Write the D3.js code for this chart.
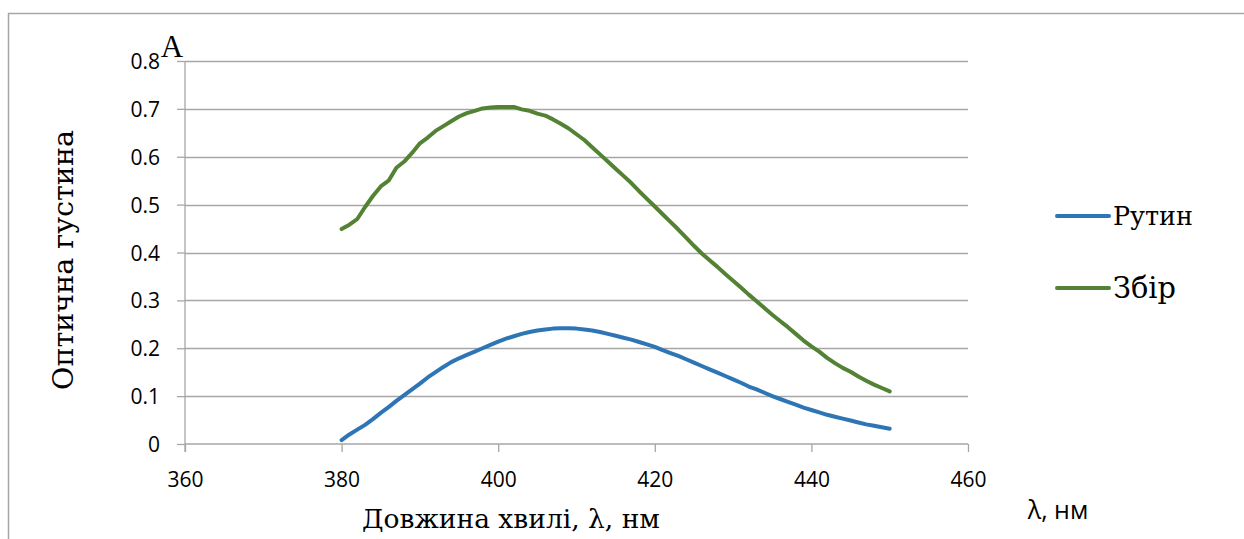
<!DOCTYPE html>
<html>
<head>
<meta charset="utf-8">
<script src="https://cdn.jsdelivr.net/npm/d3@7"></script>
<style>
  body { margin: 0; background: #fff; }
</style>
</head>
<body>
<svg width="1244" height="539"></svg>
<script>
var wavelengths = d3.range(380, 451);

var rutin = [
  0.008, 0.02, 0.03, 0.04, 0.052, 0.065, 0.077, 0.09, 0.102, 0.114,
  0.126, 0.139, 0.15, 0.161, 0.171, 0.179, 0.186, 0.193, 0.2, 0.207,
  0.214, 0.22, 0.225, 0.23, 0.234, 0.237, 0.239, 0.241, 0.242, 0.242,
  0.241, 0.239, 0.237, 0.234, 0.23, 0.226, 0.222, 0.218, 0.213, 0.208,
  0.203, 0.196, 0.19, 0.184, 0.177, 0.17, 0.163, 0.156, 0.149, 0.142,
  0.135, 0.128, 0.12, 0.114, 0.107, 0.1, 0.094, 0.088, 0.082, 0.076,
  0.071, 0.066, 0.061, 0.057, 0.053, 0.049, 0.045, 0.041, 0.038, 0.035,
  0.032
];

var zbir = [
  0.449, 0.458, 0.47, 0.495, 0.518, 0.538, 0.55, 0.577, 0.59, 0.608,
  0.628, 0.64, 0.654, 0.664, 0.674, 0.684, 0.691, 0.696, 0.701, 0.703,
  0.704, 0.704, 0.704, 0.699, 0.696, 0.69, 0.686, 0.678, 0.669, 0.659,
  0.647, 0.635, 0.62, 0.605, 0.59, 0.575, 0.56, 0.545, 0.528, 0.512,
  0.496, 0.48, 0.464, 0.448, 0.431, 0.414, 0.398, 0.384, 0.37, 0.355,
  0.341, 0.327, 0.312, 0.298, 0.284, 0.27, 0.257, 0.244, 0.23, 0.216,
  0.204, 0.193, 0.18, 0.169, 0.159, 0.151, 0.141, 0.132, 0.124, 0.117,
  0.11
];

var xTicks = [360, 380, 400, 420, 440, 460];
var yTicks = [0, 0.1, 0.2, 0.3, 0.4, 0.5, 0.6, 0.7, 0.8];

var series = [
  { name: "Рутин", values: rutin, color: "#2e75b6" },
  { name: "Збір", values: zbir, color: "#548235" }
];

var serif = "'DejaVu Serif', 'Liberation Serif', serif";
var sans = "'Open Sans', 'Noto Sans', sans-serif";

var svg = d3.select("svg");
var margin = { top: 61, left: 185 };
var width = 783;
var height = 383;

var x = d3.scaleLinear().domain([360, 460]).range([0, width]);
var y = d3.scaleLinear().domain([0, 0.8]).range([height, 0]);

// shrink or grow a text's font so it spans the wanted width
function fit(sel, target) {
  var size = parseFloat(sel.style("font-size"));
  var w = sel.node().getComputedTextLength();
  sel.style("font-size", (size * target / w).toFixed(2) + "px");
}

// outer frame (only top and left edges visible)
svg.append("path")
  .attr("d", "M8.5,539 V13.5 H1244")
  .attr("fill", "none")
  .attr("stroke", "#a6a6a6")
  .attr("stroke-width", 1.5);

var g = svg.append("g")
  .attr("transform", "translate(" + margin.left + "," + margin.top + ")");

// horizontal gridlines
g.append("g")
  .selectAll("line")
  .data(yTicks.slice(1))
  .enter().append("line")
    .attr("x1", 0)
    .attr("x2", width)
    .attr("y1", function(d) { return Math.round(y(d)) + 0.5; })
    .attr("y2", function(d) { return Math.round(y(d)) + 0.5; })
    .attr("stroke", "#a6a6a6")
    .attr("stroke-width", 1.3);

// Y axis
var yAxis = g.append("g")
  .call(d3.axisLeft(y).tickValues(yTicks).tickSize(8).tickPadding(17)
    .tickFormat(function(d) { return d === 0 ? "0" : d3.format(".1f")(d); }));
yAxis.selectAll("line, path").attr("stroke", "#a6a6a6").attr("stroke-width", 1.3);
yAxis.select(".domain").attr("d", "M0," + (height + 8) + "V0");
yAxis.selectAll(".tick text")
  .attr("dy", "0.36em")
  .style("font-family", sans)
  .style("font-size", "21px")
  .style("fill", "#000");

// X axis
var xAxis = g.append("g")
  .attr("transform", "translate(0," + height + ")")
  .call(d3.axisBottom(x).tickValues(xTicks).tickSize(8).tickPadding(20));
xAxis.selectAll("line, path").attr("stroke", "#a6a6a6").attr("stroke-width", 1.3);
xAxis.select(".domain").attr("d", "M0,0H" + width);
xAxis.selectAll(".tick text")
  .style("font-family", sans)
  .style("font-size", "21px")
  .style("fill", "#000");

// lines
var line = d3.line()
  .x(function(d, i) { return x(wavelengths[i]); })
  .y(function(d) { return y(d); });

g.selectAll(".series")
  .data(series)
  .enter().append("path")
    .attr("class", "series")
    .attr("d", function(s) { return line(s.values); })
    .attr("fill", "none")
    .attr("stroke", function(s) { return s.color; })
    .attr("stroke-width", 4)
    .attr("stroke-linecap", "round")
    .attr("stroke-linejoin", "round");

// titles
svg.append("text")
  .attr("x", 172)
  .attr("y", 57)
  .attr("text-anchor", "middle")
  .style("font-family", "'Liberation Serif', serif")
  .style("font-size", "31px")
  .text("A");

var yTitle = svg.append("text")
  .attr("transform", "translate(73,260) rotate(-90)")
  .attr("text-anchor", "middle")
  .style("font-family", serif)
  .style("font-size", "26px")
  .text("Оптична густина");
fit(yTitle, 260);

var xTitle = svg.append("text")
  .attr("x", 511)
  .attr("y", 528)
  .attr("text-anchor", "middle")
  .style("font-family", serif)
  .style("font-size", "26px")
  .text("Довжина хвилі, λ, нм");
fit(xTitle, 298);

svg.append("text")
  .attr("x", 1058)
  .attr("y", 519)
  .attr("text-anchor", "middle")
  .style("font-family", sans)
  .style("font-size", "25px")
  .text("λ, нм");

// legend
var legend = svg.append("g")
  .selectAll("g")
  .data(series)
  .enter().append("g")
    .attr("transform", function(d, i) { return "translate(1057," + (216 + i * 72) + ")"; });

legend.append("line")
  .attr("x1", 0).attr("x2", 52)
  .attr("stroke", function(d) { return d.color; })
  .attr("stroke-width", 4)
  .attr("stroke-linecap", "round");

legend.append("text")
  .attr("x", 56)
  .attr("dy", "0.36em")
  .style("font-family", serif)
  .style("font-size", "24px")
  .text(function(d) { return d.name; })
  .each(function(d) { fit(d3.select(this), d.name === "Рутин" ? 80 : 63); });
</script>
</body>
</html>
